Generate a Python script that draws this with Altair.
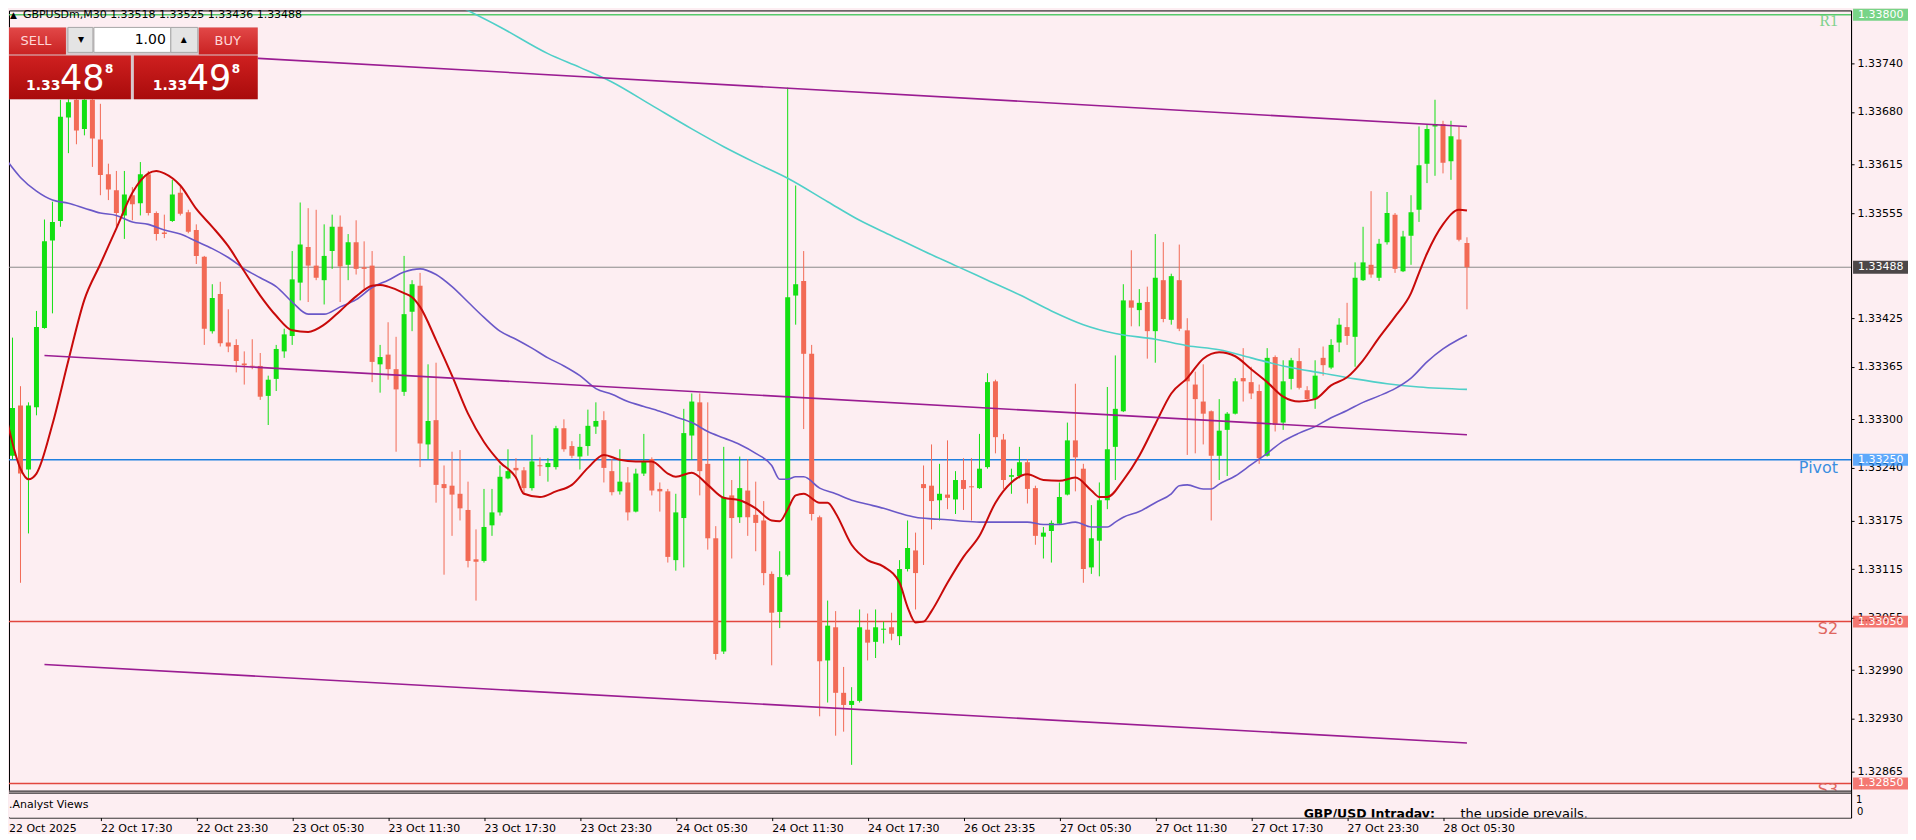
import altair as alt
import pandas as pd

# ---------------- data ----------------
opens = [1.33131,1.33255,1.33317,1.33238,1.33315,1.33413,1.33521,1.33545,1.33673,1.33695,
1.33659,1.33695,1.33646,1.33603,1.33583,1.33552,1.33577,1.33567,1.33603,1.33555,
1.33531,1.33545,1.33580,1.33556,1.33534,1.33501,1.33409,1.33455,1.33395,1.33392,
1.33369,1.33366,1.33366,1.33329,1.33350,1.33384,1.33403,1.33469,1.33513,1.33490,
1.33472,1.33508,1.33538,1.33491,1.33519,1.33488,1.33490,1.33368,1.33380,1.33362,
1.33334,1.33433,1.33465,1.33269,1.33299,1.33220,1.33218,1.33208,1.33188,1.33127,
1.33125,1.33169,1.33185,1.33227,1.33240,1.33237,1.33215,1.33243,1.33241,1.33241,
1.33289,1.33267,1.33254,1.33267,1.33291,1.33299,1.33236,1.33211,1.33222,1.33186,
1.33233,1.33251,1.33214,1.33211,1.33126,1.33178,1.33280,1.33321,1.33245,1.33153,
1.33013,1.33206,1.33179,1.33212,1.33182,1.33175,1.33109,1.33062,1.33108,1.33453,
1.33471,1.33381,1.33179,1.33002,1.33043,1.32962,1.32947,1.32952,1.33040,1.33025,
1.33040,1.33043,1.33032,1.33115,1.33138,1.33220,1.33218,1.33200,1.33207,1.33201,
1.33225,1.33217,1.33215,1.33241,1.33347,1.33275,1.33229,1.33230,1.33247,1.33215,
1.33155,1.33162,1.33171,1.33207,1.33274,1.33239,1.33117,1.33150,1.33200,1.33266,
1.33310,1.33447,1.33435,1.33445,1.33409,1.33472,1.33423,1.33472,1.33410,1.33343,
1.33322,1.33310,1.33255,1.33287,1.33307,1.33351,1.33346,1.33335,1.33255,1.33377,
1.33296,1.33350,1.33372,1.33336,1.33325,1.33376,1.33364,1.33395,1.33414,1.33402,
1.33472,1.33491,1.33475,1.33519,1.33553,1.33483,1.33527,1.33559,1.33616,1.33662,
1.33665,1.33619,1.33646,1.33518]

highs = [1.33332,1.33401,1.33341,1.33321,1.33434,1.33547,1.33569,1.33695,1.33706,1.33706,
1.33706,1.33706,1.33690,1.33616,1.33607,1.33607,1.33587,1.33618,1.33607,1.33557,
1.33553,1.33596,1.33588,1.33559,1.33541,1.33502,1.33467,1.33470,1.33436,1.33399,
1.33384,1.33399,1.33382,1.33354,1.33392,1.33412,1.33508,1.33568,1.33561,1.33559,
1.33541,1.33553,1.33552,1.33529,1.33546,1.33520,1.33508,1.33392,1.33420,1.33402,
1.33502,1.33472,1.33481,1.33368,1.33370,1.33243,1.33260,1.33262,1.33223,1.33164,
1.33214,1.33214,1.33243,1.33263,1.33252,1.33241,1.33281,1.33253,1.33252,1.33292,
1.33300,1.33273,1.33282,1.33312,1.33321,1.33310,1.33251,1.33263,1.33241,1.33239,
1.33282,1.33253,1.33222,1.33214,1.33208,1.33313,1.33332,1.33332,1.33321,1.33168,
1.33266,1.33225,1.33254,1.33251,1.33223,1.33199,1.33112,1.33137,1.33710,1.33589,
1.33508,1.33392,1.33181,1.33076,1.33063,1.32994,1.32969,1.33065,1.33060,1.33065,
1.33050,1.33061,1.33126,1.33175,1.33160,1.33243,1.33269,1.33245,1.33274,1.33236,
1.33252,1.33252,1.33282,1.33357,1.33349,1.33282,1.33239,1.33266,1.33251,1.33218,
1.33167,1.33175,1.33222,1.33296,1.33344,1.33245,1.33194,1.33222,1.33340,1.33379,
1.33467,1.33509,1.33461,1.33464,1.33529,1.33519,1.33480,1.33516,1.33425,1.33359,
1.33368,1.33311,1.33325,1.33309,1.33351,1.33388,1.33365,1.33343,1.33388,1.33379,
1.33373,1.33376,1.33388,1.33341,1.33373,1.33390,1.33399,1.33425,1.33444,1.33494,
1.33538,1.33582,1.33523,1.33581,1.33555,1.33533,1.33577,1.33662,1.33665,1.33695,
1.33669,1.33669,1.33662,1.33525]

lows = [1.33128,1.33250,1.33098,1.33159,1.33305,1.33412,1.33431,1.33538,1.33629,1.33640,
1.33651,1.33612,1.33577,1.33571,1.33538,1.33523,1.33546,1.33552,1.33552,1.33521,
1.33524,1.33544,1.33552,1.33530,1.33492,1.33392,1.33406,1.33390,1.33383,1.33358,
1.33343,1.33362,1.33324,1.33293,1.33335,1.33376,1.33392,1.33447,1.33445,1.33472,
1.33442,1.33486,1.33445,1.33472,1.33479,1.33461,1.33346,1.33333,1.33349,1.33260,
1.33329,1.33409,1.33241,1.33251,1.33197,1.33108,1.33156,1.33175,1.33117,1.33076,
1.33123,1.33156,1.33181,1.33226,1.33226,1.33208,1.33212,1.33230,1.33223,1.33238,
1.33260,1.33252,1.33238,1.33255,1.33282,1.33222,1.33206,1.33207,1.33175,1.33185,
1.33230,1.33206,1.33186,1.33123,1.33113,1.33117,1.33250,1.33206,1.33139,1.33003,
1.33010,1.33128,1.33172,1.33156,1.33137,1.33095,1.32996,1.33042,1.33106,1.33417,
1.33288,1.33175,1.32933,1.32950,1.32909,1.32914,1.32873,1.32950,1.33002,1.33005,
1.33023,1.33027,1.33021,1.33112,1.33065,1.33120,1.33164,1.33175,1.33189,1.33183,
1.33188,1.33175,1.33214,1.33239,1.33258,1.33214,1.33208,1.33227,1.33196,1.33145,
1.33128,1.33123,1.33170,1.33206,1.33211,1.33098,1.33109,1.33106,1.33189,1.33225,
1.33309,1.33415,1.33415,1.33375,1.33370,1.33420,1.33417,1.33409,1.33256,1.33258,
1.33269,1.33175,1.33225,1.33230,1.33306,1.33322,1.33325,1.33245,1.33254,1.33285,
1.33287,1.33337,1.33337,1.33322,1.33313,1.33354,1.33362,1.33383,1.33392,1.33365,
1.33471,1.33475,1.33471,1.33516,1.33481,1.33482,1.33491,1.33544,1.33592,1.33601,
1.33604,1.33596,1.33520,1.33436]

closes = [1.33274,1.33314,1.33233,1.33317,1.33414,1.33520,1.33544,1.33674,1.33692,1.33657,
1.33695,1.33647,1.33602,1.33584,1.33555,1.33578,1.33566,1.33603,1.33555,1.33529,
1.33529,1.33578,1.33554,1.33532,1.33502,1.33412,1.33450,1.33394,1.33390,1.33372,
1.33367,1.33365,1.33328,1.33349,1.33387,1.33405,1.33473,1.33516,1.33490,1.33475,
1.33502,1.33538,1.33489,1.33519,1.33486,1.33486,1.33371,1.33377,1.33362,1.33337,
1.33430,1.33467,1.33270,1.33298,1.33219,1.33215,1.33207,1.33190,1.33125,1.33124,
1.33167,1.33185,1.33229,1.33236,1.33237,1.33215,1.33248,1.33242,1.33246,1.33289,
1.33263,1.33255,1.33266,1.33292,1.33298,1.33240,1.33210,1.33223,1.33185,1.33233,
1.33248,1.33212,1.33211,1.33130,1.33185,1.33283,1.33322,1.33236,1.33153,1.33010,
1.33203,1.33178,1.33215,1.33179,1.33172,1.33110,1.33061,1.33105,1.33451,1.33467,
1.33381,1.33183,1.33001,1.33045,1.32962,1.32947,1.32952,1.33043,1.33024,1.33043,
1.33041,1.33035,1.33115,1.33141,1.33110,1.33215,1.33199,1.33208,1.33203,1.33225,
1.33214,1.33216,1.33239,1.33346,1.33278,1.33225,1.33231,1.33247,1.33214,1.33156,
1.33160,1.33172,1.33204,1.33274,1.33253,1.33115,1.33153,1.33200,1.33263,1.33313,
1.33447,1.33438,1.33444,1.33409,1.33475,1.33424,1.33477,1.33412,1.33347,1.33325,
1.33307,1.33255,1.33286,1.33307,1.33347,1.33347,1.33332,1.33252,1.33376,1.33293,
1.33347,1.33373,1.33339,1.33325,1.33354,1.33367,1.33392,1.33417,1.33403,1.33475,
1.33494,1.33479,1.33517,1.33555,1.33486,1.33526,1.33556,1.33614,1.33659,1.33665,
1.33617,1.33650,1.33522,1.33488]

# fast moving average (red)
fast_ma_bar = [0,2,3,4,6,8,10,12,14,16,18,19,20,22,24,26,28,30,32,34,
36,38,40,42,44,46,47,48,50,51,52,54,56,58,60,62,64,65,67,69,
71,73,75,77,79,81,83,84,86,88,90,92,94,96,97,98,99,100,102,103,
104,106,108,110,112,113,114,115,116,118,120,122,124,126,128,130,132,134,136,137,
138,140,142,144,146,148,150,152,154,156,158,160,162,164,166,168,170,172,174,176,
177,178,180,182,183]
fast_ma_val = [1.33313,1.33239,1.33226,1.33233,1.33294,1.33373,1.33448,1.33492,1.33536,1.33580,
1.33604,1.33607,1.33604,1.33589,1.33560,1.33538,1.33514,1.33483,1.33453,1.33428,
1.33410,1.33408,1.33417,1.33434,1.33452,1.33465,1.33466,1.33464,1.33456,1.33451,
1.33439,1.33398,1.33354,1.33307,1.33272,1.33247,1.33228,1.33208,1.33204,1.33211,
1.33219,1.33240,1.33256,1.33250,1.33248,1.33248,1.33233,1.33229,1.33234,1.33219,
1.33203,1.33200,1.33190,1.33175,1.33174,1.33189,1.33206,1.33208,1.33197,1.33197,
1.33184,1.33145,1.33126,1.33118,1.33098,1.33068,1.33049,1.33050,1.33063,1.33098,
1.33130,1.33156,1.33197,1.33222,1.33232,1.33225,1.33224,1.33228,1.33212,1.33204,
1.33204,1.33225,1.33255,1.33294,1.33332,1.33351,1.33375,1.33383,1.33378,1.33362,
1.33346,1.33328,1.33322,1.33325,1.33342,1.33352,1.33373,1.33401,1.33427,1.33456,
1.33481,1.33505,1.33541,1.33559,1.33558]

# medium moving average (slate blue)
mid_ma_bar = [0,2,4,6,8,10,12,14,16,18,20,22,24,26,28,30,32,34,36,38,
40,42,44,46,48,50,52,54,56,58,60,62,64,66,68,70,72,74,76,78,
80,82,84,86,88,90,92,94,96,97,98,99,100,102,104,106,108,110,112,114,
116,118,120,122,124,126,128,130,132,134,136,138,139,140,142,144,146,147,148,150,
151,152,154,156,158,160,162,164,166,168,170,172,174,176,178,180,182,183]
mid_ma_val = [1.33624,1.33599,1.33582,1.33571,1.33567,1.33561,1.33555,1.33552,1.33544,1.33541,
1.33534,1.33529,1.33520,1.33511,1.33500,1.33486,1.33475,1.33464,1.33445,1.33430,
1.33430,1.33439,1.33448,1.33463,1.33472,1.33482,1.33486,1.33479,1.33464,1.33445,
1.33426,1.33409,1.33399,1.33388,1.33376,1.33366,1.33354,1.33338,1.33331,1.33322,
1.33316,1.33310,1.33303,1.33296,1.33285,1.33277,1.33269,1.33258,1.33243,1.33226,
1.33226,1.33229,1.33229,1.33215,1.33208,1.33200,1.33195,1.33190,1.33184,1.33179,
1.33177,1.33176,1.33174,1.33173,1.33173,1.33173,1.33173,1.33170,1.33170,1.33173,
1.33167,1.33167,1.33173,1.33179,1.33186,1.33197,1.33208,1.33218,1.33219,1.33214,
1.33214,1.33220,1.33230,1.33244,1.33258,1.33273,1.33283,1.33291,1.33302,1.33311,
1.33321,1.33329,1.33338,1.33351,1.33371,1.33387,1.33399,1.33404]

# slow moving average (turquoise)
slow_ma_bar = [56,62,68,72,76,81,86,90,94,98,103,107,111,115,119,123,127,131,135,139,
144,148,152,156,160,165,169,173,177,183]
slow_ma_val = [1.33815,1.33785,1.33752,1.33735,1.33717,1.33688,1.33659,1.33637,1.33617,1.33598,
1.33569,1.33546,1.33527,1.33508,1.33490,1.33472,1.33454,1.33434,1.33417,1.33406,
1.33399,1.33391,1.33386,1.33376,1.33366,1.33357,1.33350,1.33344,1.33340,1.33337]

# regression channel
chan_bar = [5, 183]
chan_upper = [1.33761, 1.33662]
chan_middle = [1.33379, 1.33281]
chan_lower = [1.32997, 1.32900]

# pivot levels
level_names = ["R1", "Pivot", "S2", "S3"]
level_prices = [1.33800, 1.33250, 1.33050, 1.32850]
level_line_colors = ["#56c96a", "#1f80e0", "#e2463e", "#e2463e"]
level_text_colors = ["#7fd18c", "#3a8ee0", "#df6660", "#df6660"]
level_tag_colors = ["#3ec95a", "#1a8cff", "#f0463c", "#f0463c"]
bid_price = 1.33488

y_tick_values = [1.33740, 1.33680, 1.33615, 1.33555, 1.33425, 1.33365, 1.33300, 1.33240,
                 1.33175, 1.33115, 1.33055, 1.32990, 1.32930, 1.32865]

x_tick_bars = [12, 24, 36, 48, 60, 72, 84, 96, 108, 120, 132, 144, 156, 168, 180]
x_tick_labels = ["22 Oct 17:30", "22 Oct 23:30", "23 Oct 05:30", "23 Oct 11:30", "23 Oct 17:30",
                 "23 Oct 23:30", "24 Oct 05:30", "24 Oct 11:30", "24 Oct 17:30", "26 Oct 23:35",
                 "27 Oct 05:30", "27 Oct 11:30", "27 Oct 17:30", "27 Oct 23:30", "28 Oct 05:30"]
first_bar_label = "22 Oct 2025"

header_text = "GBPUSDm,M30  1.33518 1.33525 1.33436 1.33488"

# ---------------- layout / style ----------------
W = 1844
H = 808
PRICE_TOP = 1.338054
PRICE_BOTTOM = 1.328078
BAR_FIRST = 0.5625
BAR_LAST = 231.0625
BG = "#fdeef2"
UP = "#12e012"
DOWN = "#f26a55"
FONT = "DejaVu Sans"

x_scale = alt.Scale(domain=[BAR_FIRST, BAR_LAST], nice=False, zero=False)
y_scale = alt.Scale(domain=[PRICE_BOTTOM, PRICE_TOP], nice=False, zero=False)

label_expr = "[" + ",".join("'%s'" % t for t in x_tick_labels) + "][round(datum.value / 12) - 1]"
x_axis = alt.Axis(values=x_tick_bars, labelExpr=label_expr, title=None, orient="bottom",
                  grid=False, domain=False, ticks=True, tickSize=3, tickColor="black",
                  labelAlign="left", labelBaseline="top", labelPadding=2, labelFont=FONT,
                  labelFontSize=11, labelColor="black", labelFlush=False, labelOverlap=False)
y_axis = alt.Axis(values=y_tick_values, format=".5f", title=None, orient="right", grid=False,
                  domain=True, domainColor="black", ticks=True, tickSize=3, tickColor="black",
                  labelPadding=3, labelFont=FONT, labelFontSize=11, labelColor="black",
                  labelFlush=False, labelOverlap=False)


def X(field):
    return alt.X(field, type="quantitative", scale=x_scale, axis=x_axis)


def Y(field):
    return alt.Y(field, type="quantitative", scale=y_scale, axis=y_axis)


# ---------------- tables ----------------
candles = pd.DataFrame({"bar": list(range(len(opens))), "open": opens, "high": highs,
                        "low": lows, "close": closes})
candles["dir"] = ["up" if c >= o else "down" for o, c in zip(opens, closes)]
candles["body_lo"] = [min(o, c) for o, c in zip(opens, closes)]
candles["body_hi"] = [max(max(o, c), min(o, c) + 0.0000125) for o, c in zip(opens, closes)]

dir_color = alt.Color("dir:N", scale=alt.Scale(domain=["up", "down"], range=[UP, DOWN]), legend=None)

fast_df = pd.DataFrame({"bar": fast_ma_bar, "price": fast_ma_val})
mid_df = pd.DataFrame({"bar": mid_ma_bar, "price": mid_ma_val})
slow_df = pd.DataFrame({"bar": slow_ma_bar, "price": slow_ma_val})
chan_df = pd.DataFrame({
    "bar": chan_bar * 3,
    "price": chan_upper + chan_middle + chan_lower,
    "line": ["upper"] * 2 + ["middle"] * 2 + ["lower"] * 2,
})
levels = pd.DataFrame({"name": level_names, "price": level_prices,
                       "tag": ["%.5f" % p for p in level_prices]})
bid_df = pd.DataFrame({"price": [bid_price], "tag": ["%.5f" % bid_price]})

one = alt.Chart(pd.DataFrame({"k": [0]}))


def box(x1, x2, y1, y2, fill, stroke=None, sw=1):
    kw = {"fill": fill}
    if stroke is not None:
        kw["stroke"] = stroke
        kw["strokeWidth"] = sw
    return one.mark_rect(**kw).encode(x=alt.value(x1), x2=alt.value(x2),
                                      y=alt.value(y1), y2=alt.value(y2))


def txt(text, x, y, size=11, color="black", align="left", baseline="middle",
        weight="normal", font=FONT, clip=False):
    return one.mark_text(text=text, fontSize=size, color=color, align=align, baseline=baseline,
                         fontWeight=weight, font=font, clip=clip).encode(x=alt.value(x), y=alt.value(y))


# ---------------- layers ----------------
level_rules = alt.Chart(levels).mark_rule(strokeWidth=1.5, clip=True).encode(
    y=Y("price"),
    color=alt.Color("name:N", scale=alt.Scale(domain=level_names, range=level_line_colors), legend=None),
)
bid_rule = alt.Chart(bid_df).mark_rule(strokeWidth=1, color="#8a8a8a", clip=True).encode(y=Y("price"))

wicks = alt.Chart(candles).mark_rule(strokeWidth=1, clip=True).encode(
    x=X("bar"), y=Y("low"), y2="high", color=dir_color)
bodies = alt.Chart(candles).mark_rule(strokeWidth=5, strokeCap="butt", clip=True).encode(
    x=X("bar"), y=Y("body_lo"), y2="body_hi", color=dir_color)

slow_line = alt.Chart(slow_df).mark_line(color="#4fcfc8", strokeWidth=1.6, clip=True,
                                         interpolate="monotone").encode(x=X("bar"), y=Y("price"))
mid_line = alt.Chart(mid_df).mark_line(color="#6a58c8", strokeWidth=1.6, clip=True,
                                       interpolate="monotone").encode(x=X("bar"), y=Y("price"))
fast_line = alt.Chart(fast_df).mark_line(color="#c80a0a", strokeWidth=2, clip=True,
                                         interpolate="monotone").encode(x=X("bar"), y=Y("price"))
chan_lines = alt.Chart(chan_df).mark_line(color="#9a1c92", strokeWidth=1.6, clip=True).encode(
    x=X("bar"), y=Y("price"), detail="line:N")

lvl_fonts = {"R1": "Liberation Serif", "Pivot": FONT, "S2": FONT, "S3": FONT}
lvl_dy = {"R1": 11, "Pivot": 13, "S2": 12, "S3": 12}
level_labels = []
for name, price, col in zip(level_names, level_prices, level_text_colors):
    d = pd.DataFrame({"price": [price], "name": [name]})
    level_labels.append(
        alt.Chart(d).mark_text(text=name, font=lvl_fonts[name], fontSize=16, color=col,
                               align="right", baseline="alphabetic", dy=lvl_dy[name]).encode(
            x=alt.value(1831), y=Y("price")))

# indicator sub-window (Analyst Views)
panel = [
    box(0, W, 781, H, BG),
    one.mark_rule(color="black", strokeWidth=1).encode(x=alt.value(0), x2=alt.value(W), y=alt.value(781.5)),
    one.mark_rule(color="black", strokeWidth=1).encode(x=alt.value(0), x2=alt.value(W), y=alt.value(783.5)),
    txt(".Analyst Views", 0, 795, size=11),
    txt("GBP/USD Intraday:", 1296, 808, size=12.5, weight="bold", baseline="alphabetic", clip=True),
    txt("the upside prevails.", 1453, 808, size=13, baseline="alphabetic", clip=True),
    txt("1", 1849, 790, size=10),
    txt("0", 1850, 802, size=10),
    txt(first_bar_label, 0, H + 5, size=11, baseline="top"),
]

# right-axis price tags
level_tags = alt.Chart(levels).mark_tick(orient="horizontal", thickness=12, size=55).encode(
    x=alt.value(1873.5), y=Y("price"),
    color=alt.Color("name:N", scale=alt.Scale(domain=level_names, range=level_tag_colors), legend=None))
level_tag_text = alt.Chart(levels).mark_text(font=FONT, fontSize=11, color="white", align="left",
                                             baseline="middle").encode(
    x=alt.value(1851), y=Y("price"), text="tag:N")
bid_tag = alt.Chart(bid_df).mark_tick(orient="horizontal", thickness=13, size=55, color="black").encode(
    x=alt.value(1873.5), y=Y("price"))
bid_tag_text = alt.Chart(bid_df).mark_text(font=FONT, fontSize=11, color="white", align="left",
                                           baseline="middle").encode(
    x=alt.value(1851), y=Y("price"), text="tag:N")

# header and one-click trading panel
grad_top = alt.LinearGradient(gradient="linear", x1=0, x2=0, y1=0, y2=1,
                              stops=[alt.GradientStop(color="#e24848", offset=0),
                                     alt.GradientStop(color="#c92222", offset=1)])
grad_low = alt.LinearGradient(gradient="linear", x1=0, x2=0, y1=0, y2=1,
                              stops=[alt.GradientStop(color="#cf2020", offset=0),
                                     alt.GradientStop(color="#a90b0b", offset=1)])
trade_panel = [
    txt("\u25b2", 1, 5, size=9),
    txt(header_text, 14, 5, size=11),
    box(0, 249, 17, 89, "#d8c8cc"),
    box(0, 57, 17, 44, grad_top),
    box(190, 249, 17, 44, grad_top),
    box(59, 84, 17, 42, "#e4e4e4", "#a8a8a8"),
    box(85, 162, 17, 42, "white", "#a8a8a8"),
    box(162, 189, 17, 42, "#e4e4e4", "#a8a8a8"),
    box(0, 122, 45, 89, grad_low),
    box(125, 249, 45, 89, grad_low),
    txt("SELL", 27, 31, size=13, color="#ffd6d6", align="center"),
    txt("BUY", 219, 31, size=13, color="#ffd6d6", align="center"),
    txt("\u25be", 72, 29, size=12, align="center"),
    txt("\u25b4", 175, 29, size=12, align="center"),
    txt("1.00", 157, 30, size=14, align="right"),
    txt("1.33", 17, 80, size=14, color="white", weight="bold", baseline="alphabetic"),
    txt("48", 51, 80, size=35, color="white", baseline="alphabetic"),
    txt("8", 96, 63, size=12, color="white", weight="bold", baseline="alphabetic"),
    txt("1.33", 144, 80, size=14, color="white", weight="bold", baseline="alphabetic"),
    txt("49", 178, 80, size=35, color="white", baseline="alphabetic"),
    txt("8", 223, 63, size=12, color="white", weight="bold", baseline="alphabetic"),
]

chart = alt.layer(
    level_rules, bid_rule, wicks, bodies, slow_line, mid_line, fast_line, chan_lines,
    *level_labels, *panel, level_tags, level_tag_text, bid_tag, bid_tag_text, *trade_panel,
).resolve_scale(color="independent").properties(
    width=W, height=H, padding=0, background=BG,
).configure_view(stroke="black", strokeWidth=1, fill=BG)

chart.save("out.html", embed_options={"renderer": "svg", "actions": False})
